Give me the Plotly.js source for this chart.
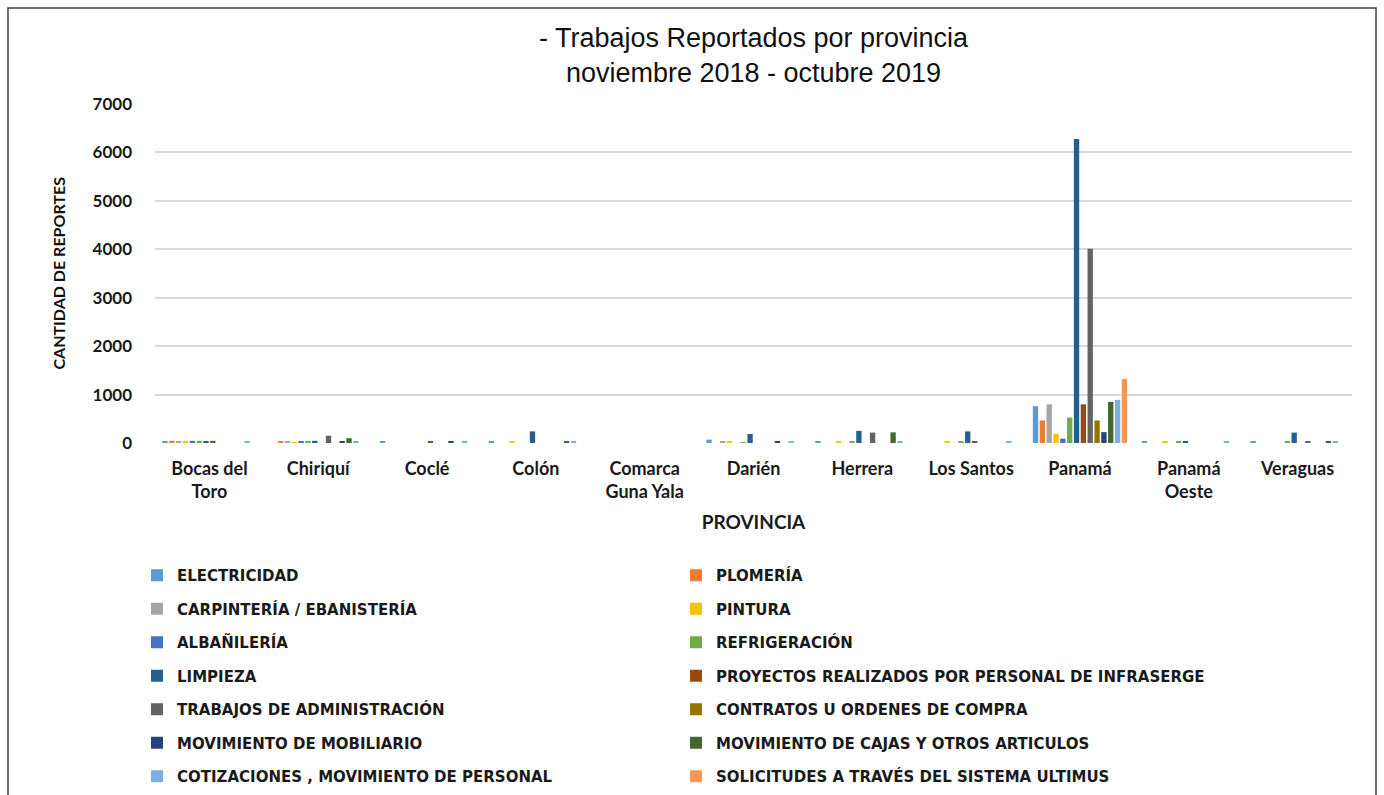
<!DOCTYPE html>
<html>
<head>
<meta charset="utf-8">
<script src="https://cdn.plot.ly/plotly-3.0.1.min.js"></script>
<style>html,body{margin:0;padding:0;background:#fff;}#chart{width:1384px;height:795px;}</style>
</head>
<body>
<div id="chart"></div>
<script>
const provincias = ["Bocas del<br>Toro","Chiriquí","Coclé","Colón","Comarca<br>Guna Yala","Darién","Herrera","Los Santos","Panamá","Panamá<br>Oeste","Veraguas"];

const seriesNames = ["ELECTRICIDAD","PLOMERÍA","CARPINTERÍA / EBANISTERÍA","PINTURA","ALBAÑILERÍA","REFRIGERACIÓN","LIMPIEZA","PROYECTOS REALIZADOS POR PERSONAL DE INFRASERGE","TRABAJOS DE ADMINISTRACIÓN","CONTRATOS U ORDENES DE COMPRA","MOVIMIENTO DE MOBILIARIO","MOVIMIENTO DE CAJAS Y OTROS ARTICULOS","COTIZACIONES , MOVIMIENTO DE PERSONAL","SOLICITUDES A TRAVÉS DEL SISTEMA ULTIMUS"];

const electricidad  = [40, 0, 25, 30, 0, 70, 25, 0, 760, 30, 30];
const plomeria      = [45, 35, 0, 0, 0, 0, 0, 0, 465, 0, 0];
const carpinteria   = [40, 40, 0, 0, 0, 25, 0, 0, 800, 0, 0];
const pintura       = [35, 10, 0, 25, 0, 25, 35, 30, 190, 30, 0];
const albanileria   = [45, 40, 0, 0, 0, 0, 0, 0, 90, 0, 0];
const refrigeracion = [45, 45, 0, 0, 0, 15, 25, 25, 525, 35, 30];
const limpieza      = [40, 45, 0, 240, 0, 185, 250, 240, 6275, 40, 215];
const proyectos     = [45, 0, 35, 0, 0, 0, 0, 40, 800, 0, 0];
const administracion= [0, 150, 0, 0, 0, 0, 215, 0, 4010, 0, 40];
const contratos     = [0, 0, 0, 0, 0, 0, 0, 0, 465, 0, 0];
const mobiliario    = [0, 40, 35, 0, 0, 30, 0, 0, 225, 0, 0];
const cajas         = [0, 100, 0, 35, 0, 0, 220, 0, 850, 0, 30];
const cotizaciones  = [30, 30, 25, 30, 0, 25, 25, 25, 890, 25, 30];
const solicitudes   = [0, 0, 0, 0, 0, 0, 0, 0, 1325, 0, 0];

const yAxisTitle = 'CANTIDAD DE REPORTES';

const allValues = [electricidad, plomeria, carpinteria, pintura, albanileria, refrigeracion, limpieza, proyectos, administracion, contratos, mobiliario, cajas, cotizaciones, solicitudes];

const colors = ["#5B9BD5","#ED7D31","#A5A5A5","#FFC000","#4472C4","#70AD47","#255E91","#9E480E","#636363","#997300","#264478","#43682B","#7CAFDD","#F1975A"];

const traces = allValues.map((vals, i) => ({
  type: 'bar',
  name: seriesNames[i],
  x: provincias,
  y: vals,
  marker: {color: colors[i]},
  legend: (i % 2 === 0) ? 'legend' : 'legend2',
  legendgroup: 'g' + i,
  hoverinfo: 'x+y+name'
}));

const L = 155, R = 32, T = 104, B = 352;
const W = 1384 - L - R, H = 795 - T - B;
function px(x){ return (x - L) / W; }
function py(y){ return (795 - B - y) / H; }

const legendFont = {family: 'DejaVu Sans, sans-serif', size: 15, color: '#1a1a1a', weight: 'bold'};

const layout = {
  width: 1384, height: 795,
  margin: {l: L, r: R, t: T, b: B, pad: 0, autoexpand: false},
  paper_bgcolor: '#fff', plot_bgcolor: '#fff',
  barmode: 'group', bargap: 0.12, bargroupgap: 0.22,
  title: {
    text: '- Trabajos Reportados por provincia<br>noviembre 2018 - octubre 2019',
    font: {family: 'Liberation Sans, Arial, sans-serif', size: 27, color: '#111'},
    x: 0.5, xref: 'paper', xanchor: 'center',
    y: 1 - 47/795, yref: 'container', yanchor: 'top'
  },
  xaxis: {
    type: 'category', automargin: false, tickangle: 0,
    showgrid: false, zeroline: false, showline: false, ticks: '',
    tickfont: {family: 'Lato, sans-serif', size: 18, color: '#1a1a1a', weight: 'bold'},
    ticklabelstandoff: 13,
    title: {text: 'PROVINCIA', font: {family: 'Lato, sans-serif', size: 19, color: '#1a1a1a', weight: 'bold'}, standoff: 14}
  },
  yaxis: {
    range: [0, 7000], dtick: 1000, automargin: false,
    showgrid: true, gridcolor: '#d9d9d9', gridwidth: 2,
    zeroline: false, showline: false, ticks: '',
    tickfont: {family: 'Lato, sans-serif', size: 17, color: '#1a1a1a', weight: 'bold'},
    ticklabelstandoff: 22
  },
  annotations: [{
    text: yAxisTitle, textangle: -90, showarrow: false,
    xref: 'paper', yref: 'paper', x: px(58), y: 0.5, xanchor: 'center', yanchor: 'middle',
    font: {family: 'Lato, sans-serif', size: 16, color: '#111', weight: 'bold'}
  }],
  legend: {
    orientation: 'v', traceorder: 'grouped', tracegroupgap: 11,
    xref: 'container', yref: 'container',
    x: 137/1384, xanchor: 'left', y: 1 - 559/795, yanchor: 'top',
    font: legendFont, bgcolor: 'rgba(0,0,0,0)', itemclick: false, itemdoubleclick: false
  },
  legend2: {
    orientation: 'v', traceorder: 'grouped', tracegroupgap: 11,
    xref: 'container', yref: 'container',
    x: 676/1384, xanchor: 'left', y: 1 - 559/795, yanchor: 'top',
    font: legendFont, bgcolor: 'rgba(0,0,0,0)', itemclick: false, itemdoubleclick: false
  },
  showlegend: true,
  shapes: [{
    type: 'rect', xref: 'paper', yref: 'paper',
    x0: px(8), x1: px(1376), y0: py(805), y1: py(8),
    line: {color: '#444', width: 1.5}, fillcolor: 'rgba(0,0,0,0)', layer: 'below'
  }]
};

Plotly.newPlot('chart', traces, layout, {displayModeBar: false});
</script>
</body>
</html>
